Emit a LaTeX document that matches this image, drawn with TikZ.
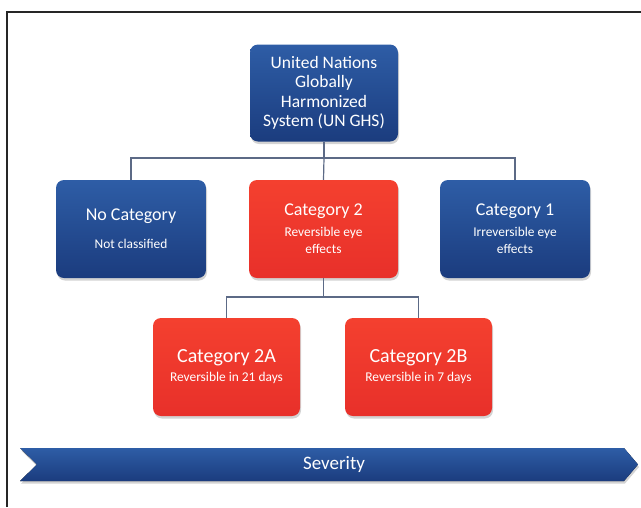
\documentclass[tikz,border=0pt]{standalone}
\usepackage{fontspec}
\setmainfont{Carlito}
\usetikzlibrary{shadows}
\definecolor{bluetop}{HTML}{2E5DA6}
\definecolor{bluebot}{HTML}{1B3C7E}
\definecolor{redtop}{HTML}{F4402F}
\definecolor{redbot}{HTML}{E8302A}
\definecolor{linec}{HTML}{5C6A86}
\tikzset{
  box/.style={rounded corners=8pt, minimum width=150pt, minimum height=98pt,
    text=white, align=center, inner sep=2pt,
    font=\fontsize{13.4}{17}\selectfont,
    drop shadow={opacity=0.35, shadow xshift=1pt, shadow yshift=-2.5pt}},
  bluebox/.style={box, top color=bluetop, bottom color=bluebot},
  redbox/.style={box, top color=redtop, bottom color=redbot},
  conn/.style={draw=linec, line width=1.2pt},
}
\newcommand{\bigt}{\fontsize{18}{17}\selectfont}
\newcommand{\bigtt}{\fontsize{20}{17}\selectfont}
\newcommand{\subt}{\fontsize{13.4}{17}\selectfont}
\begin{document}
\begin{tikzpicture}[x=1pt,y=-1pt]
\useasboundingbox (0,0) rectangle (641,507);
\draw[line width=1.5pt, draw=black!85] (7,507) -- (7,12) -- (641,12);

\node[bluebox, minimum width=148pt, minimum height=97pt,
  font=\fontsize{17.5}{19.5}\selectfont] (top) at (324,93)
  {United Nations\\Globally\\Harmonized\\System (UN GHS)};

\node[bluebox] (nocat) at (131,229)
  {\bigt No Category\\[11pt]\subt Not classified};
\node[redbox, minimum width=149pt] (cat2) at (323.5,229)
  {\bigt Category 2\\[4pt]\subt Reversible eye\\\subt effects};
\node[bluebox] (cat1) at (515,229)
  {\bigt Category 1\\[4pt]\subt Irreversible eye\\\subt effects};

\node[redbox, minimum width=147pt] (cat2a) at (226.5,367)
  {\bigtt Category 2A\\[2pt]\subt Reversible in 21 days};
\node[redbox, minimum width=147pt] (cat2b) at (418.5,367)
  {\bigtt Category 2B\\[2pt]\subt Reversible in 7 days};

\coordinate (j1) at (324,158);
\coordinate (j2) at (323.5,297);
\draw[conn] (top.south) -- (j1);
\draw[conn] (j1) -| (nocat.north);
\draw[conn] (j1) -| (cat1.north);
\draw[conn] (j1) -- (cat2.north);
\draw[conn] (cat2.south) -- (j2);
\draw[conn] (j2) -| (cat2a.north);
\draw[conn] (j2) -| (cat2b.north);

\fill[top color=bluetop, bottom color=bluebot,
  drop shadow={opacity=0.35, shadow xshift=1pt, shadow yshift=-2.5pt}]
  (20,448) -- (624,448) -- (638,464.5) -- (624,481) -- (20,481) -- (37,464.5) -- cycle;
\node[text=white, font=\fontsize{19}{22}\selectfont] (sev) at (334,464.5) {Severity};
\end{tikzpicture}
\end{document}
